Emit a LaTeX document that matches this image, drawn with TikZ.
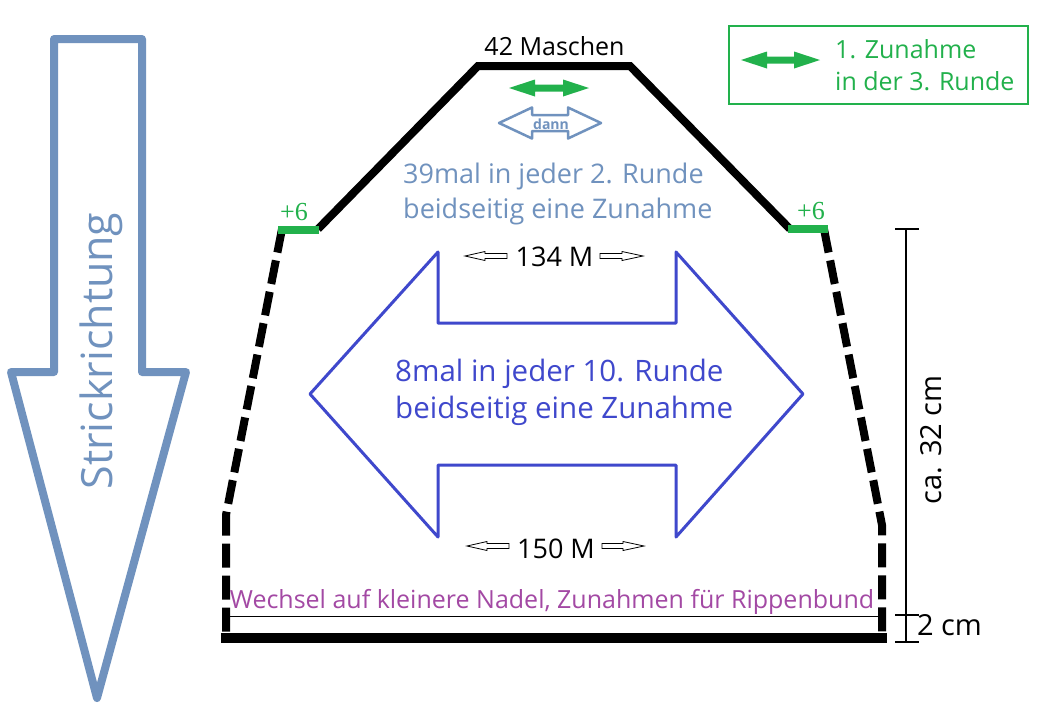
\documentclass[tikz,border=0pt]{standalone}
\usepackage{fontspec}
\setmainfont{Open Sans}
\newfontfamily\plusfont{Liberation Serif}
\definecolor{pgreen}{RGB}{34,177,76}
\definecolor{steel}{RGB}{112,146,190}
\definecolor{indigo}{RGB}{63,72,204}
\definecolor{violet}{RGB}{163,73,164}
% block arrows: style, left x, right x, y, half shaft, half head, head length
\newcommand\dblarrow[7]{%
  \draw[#1] (#2,#4) -- ({#2+(#7)},{#4-(#6)}) -- ({#2+(#7)},{#4-(#5)}) -- ({#3-(#7)},{#4-(#5)})
    -- ({#3-(#7)},{#4-(#6)}) -- (#3,#4) -- ({#3-(#7)},{#4+(#6)}) -- ({#3-(#7)},{#4+(#5)})
    -- ({#2+(#7)},{#4+(#5)}) -- ({#2+(#7)},{#4+(#6)}) -- cycle;}
% style, tail x, tip x, y, half shaft, half head, head length (signed)
\newcommand\onearrow[7]{%
  \draw[#1] (#2,{#4-(#5)}) -- ({#3-(#7)},{#4-(#5)}) -- ({#3-(#7)},{#4-(#6)}) -- (#3,#4)
    -- ({#3-(#7)},{#4+(#6)}) -- ({#3-(#7)},{#4+(#5)}) -- (#2,{#4+(#5)}) -- cycle;}

\begin{document}
\begin{tikzpicture}[x=1pt,y=-1pt,
  edge/.style={line width=8pt,line join=miter},
  dashedge/.style={line width=8pt,dash pattern=on 24pt off 8pt},
  greenmark/.style={draw=pgreen,line width=8pt},
  dim/.style={line width=2.5pt},
  hollow/.style={draw=black,line width=.8pt,fill=white},
  fs/.style={font=\fontsize{#1}{#1}\selectfont},
  plus/.style={text=pgreen,font=\plusfont\fontsize{26}{26}\selectfont}]
 \useasboundingbox[fill=white] (0,0) rectangle (1050,710);

 % Strickrichtung
 \draw[steel,line width=8pt,line join=round] (54,39) -- (142,39) -- (142,372)
   -- (186,372) -- (97,698) -- (11,372) -- (54,372) -- cycle;
 \node[fs=43,text=steel,rotate=90] (dir) at (101,351) {Strickrichtung};

 % Umriss
 \draw[edge] (318,229) -- (478,66) -- (630,66) -- (790,229);
 \draw[dashedge] (282,229) -- (226,515) -- (226,638);
 \draw[dashedge] (824,229) -- (882,525) -- (882,638);
 \draw[line width=10pt] (221,638) -- (887,638);
 \draw[line width=1pt] (228,616) -- (880,616);
 \draw[greenmark] (278,230) -- (319,230);
 \draw[greenmark] (788,229) -- (828,229);
 \node[plus] (plusl) at (294,212.5) {+6};
 \node[plus] (plusr) at (811,211.5) {+6};

 \node[fs=25] (top) at (554.5,46.5) {42 Maschen};
 \dblarrow{fill=pgreen,draw=none}{509}{589}{88}{3.5}{8.5}{26}
 \dblarrow{draw=steel,line width=2.5pt,fill=white,line join=round}{499}{601}{123}{8}{15.5}{33}
 \node[text=steel,font=\bfseries\fontsize{14}{14}\selectfont] (dann) at (551,124) {dann};
 \node[text=steel,align=left,anchor=west,inner sep=0pt,
   font=\fontsize{27}{35}\selectfont] (upper) at (403,194)
   {39mal in jeder 2. Runde\\beidseitig eine Zunahme};

 % Zunahmen im Rumpf
 \draw[indigo,line width=3pt,line join=round] (438,252) -- (438,323) -- (676,323)
   -- (676,252) -- (803,394) -- (676,537) -- (676,465) -- (438,465) -- (438,537)
   -- (310,394) -- cycle;
 \node[text=indigo,align=left,anchor=west,inner sep=0pt,
   font=\fontsize{29.5}{37}\selectfont] (mid) at (395,392)
   {8mal in jeder 10. Runde\\beidseitig eine Zunahme};
 \node[fs=27] (m134) at (554.5,256.4) {134 M};
 \onearrow{hollow}{507}{465}{256}{2.5}{4.5}{-20}
 \onearrow{hollow}{600}{643}{256}{2.5}{4.5}{21}
 \node[fs=27] (m150) at (556,548.4) {150 M};
 \onearrow{hollow}{509}{467}{546}{2.5}{4.5}{-20}
 \onearrow{hollow}{602}{644}{546}{2.5}{4.5}{21}

 \node[fs=25,text=violet] (rib) at (552,601.8)
   {Wechsel auf kleinere Nadel, Zunahmen für Rippenbund};

 % Maße
 \draw[dim] (906,229) -- (906,642);
 \foreach \y in {229,615,642}
   \draw[dim] (895,\y) -- (919,\y);
 \node[fs=29,rotate=90] (len) at (931,440) {ca. 32 cm};
 \node[fs=29] (rlen) at (949.5,625.6) {2 cm};

 % Legende
 \draw[pgreen,line width=1.5pt] (729,26) rectangle (1028,104);
 \dblarrow{fill=pgreen,draw=none}{741}{820}{60}{3.5}{8.5}{26}
 \node[text=pgreen,align=left,anchor=west,inner sep=0pt,
   font=\fontsize{25}{32}\selectfont] (legend) at (835,65.5)
   {1. Zunahme\\in der 3. Runde};
\end{tikzpicture}
\end{document}
